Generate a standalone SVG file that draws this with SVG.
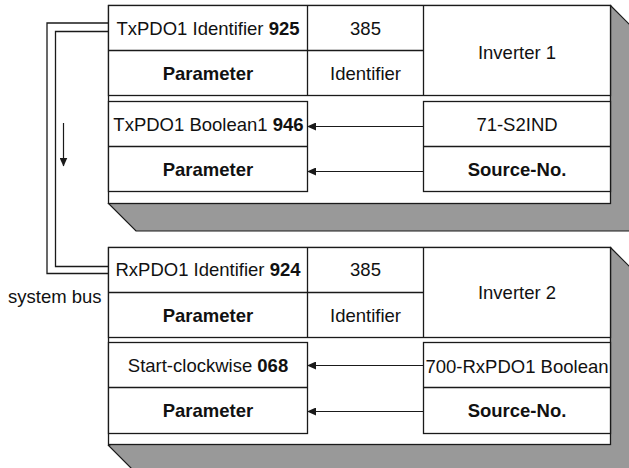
<svg xmlns="http://www.w3.org/2000/svg" width="629" height="468" viewBox="0 0 629 468">
<style>
.shadow{fill:#999999;stroke:#1a1a1a;stroke-width:1.2}
.box{fill:#ffffff;stroke:#1a1a1a;stroke-width:1.3}
.ln{fill:none;stroke:#1a1a1a;stroke-width:1.3}
.bus{fill:none;stroke:#1a1a1a;stroke-width:1.3}
.arr{fill:none;stroke:#1a1a1a;stroke-width:1.2}
text{font-family:"Liberation Sans",Arial,sans-serif;font-size:18.5px;fill:#111;text-anchor:middle}
.b{font-weight:bold}
</style>
<defs>
<marker id="ah" markerWidth="9" markerHeight="8" refX="8.5" refY="4" orient="auto" markerUnits="userSpaceOnUse">
<path d="M0,0 L9,4 L0,8 Z" fill="#1a1a1a"/>
</marker>
</defs>

<g id="inverter1">
<polygon class="shadow" points="610.5,5.5 638,33 638,231 136,231 108.5,203.5"/>
<rect class="box" x="108.5" y="5.5" width="502" height="198"/>
<rect class="box" x="108.5" y="5.5" width="502" height="90"/>
<line class="ln" x1="108.5" y1="50.5" x2="423.5" y2="50.5"/>
<line class="ln" x1="307.5" y1="5.5" x2="307.5" y2="95.5"/>
<line class="ln" x1="423.5" y1="5.5" x2="423.5" y2="95.5"/>
<rect class="box" x="108.5" y="101.5" width="199" height="90"/>
<line class="ln" x1="108.5" y1="146.5" x2="307.5" y2="146.5"/>
<rect class="box" x="423.5" y="101.5" width="187" height="90"/>
<line class="ln" x1="423.5" y1="146.5" x2="610.5" y2="146.5"/>
<text x="208" y="35">TxPDO1 Identifier <tspan class="b">925</tspan></text>
<text x="365.5" y="35">385</text>
<text x="208" y="80" class="b">Parameter</text>
<text x="365.5" y="80">Identifier</text>
<text x="517" y="58.5">Inverter 1</text>
<text x="208.5" y="131">TxPDO1 Boolean1 <tspan class="b">946</tspan></text>
<text x="517" y="131">71-S2IND</text>
<text x="208" y="176" class="b">Parameter</text>
<text x="517" y="176" class="b">Source-No.</text>
</g>

<g id="inverter2">
<polygon class="shadow" points="610.5,247.5 638,275 638,473 136,473 108.5,445.5"/>
<rect class="box" x="108.5" y="247.5" width="502" height="197"/>
<rect class="box" x="108.5" y="247.5" width="502" height="90"/>
<line class="ln" x1="108.5" y1="292.5" x2="423.5" y2="292.5"/>
<line class="ln" x1="307.5" y1="247.5" x2="307.5" y2="337.5"/>
<line class="ln" x1="423.5" y1="247.5" x2="423.5" y2="337.5"/>
<rect class="box" x="108.5" y="342.5" width="199" height="91"/>
<line class="ln" x1="108.5" y1="387.5" x2="307.5" y2="387.5"/>
<rect class="box" x="423.5" y="342.5" width="187" height="91"/>
<line class="ln" x1="423.5" y1="387.5" x2="610.5" y2="387.5"/>
<text x="208" y="276">RxPDO1 Identifier <tspan class="b">924</tspan></text>
<text x="365.5" y="276">385</text>
<text x="208" y="322" class="b">Parameter</text>
<text x="365.5" y="322">Identifier</text>
<text x="517" y="299">Inverter 2</text>
<text x="208" y="372">Start-clockwise <tspan class="b">068</tspan></text>
<text x="517" y="373">700-RxPDO1 Boolean</text>
<text x="208" y="417" class="b">Parameter</text>
<text x="517" y="417" class="b">Source-No.</text>
</g>

<g id="connectors">
<polyline class="bus" points="108.5,23 47,23 47,273.5 108.5,273.5"/>
<polyline class="bus" points="108.5,31.5 55.5,31.5 55.5,266.5 108.5,266.5"/>
<line class="arr" x1="63.5" y1="123" x2="63.5" y2="166" marker-end="url(#ah)"/>
<line class="arr" x1="423.5" y1="126.5" x2="307.5" y2="126.5" marker-end="url(#ah)"/>
<line class="arr" x1="423.5" y1="171.5" x2="307.5" y2="171.5" marker-end="url(#ah)"/>
<line class="arr" x1="423.5" y1="365.5" x2="307.5" y2="365.5" marker-end="url(#ah)"/>
<line class="arr" x1="423.5" y1="411.5" x2="307.5" y2="411.5" marker-end="url(#ah)"/>
</g>

<g id="label-system-bus">
<text x="8" y="303" style="text-anchor:start">system bus</text>
</g>
</svg>
